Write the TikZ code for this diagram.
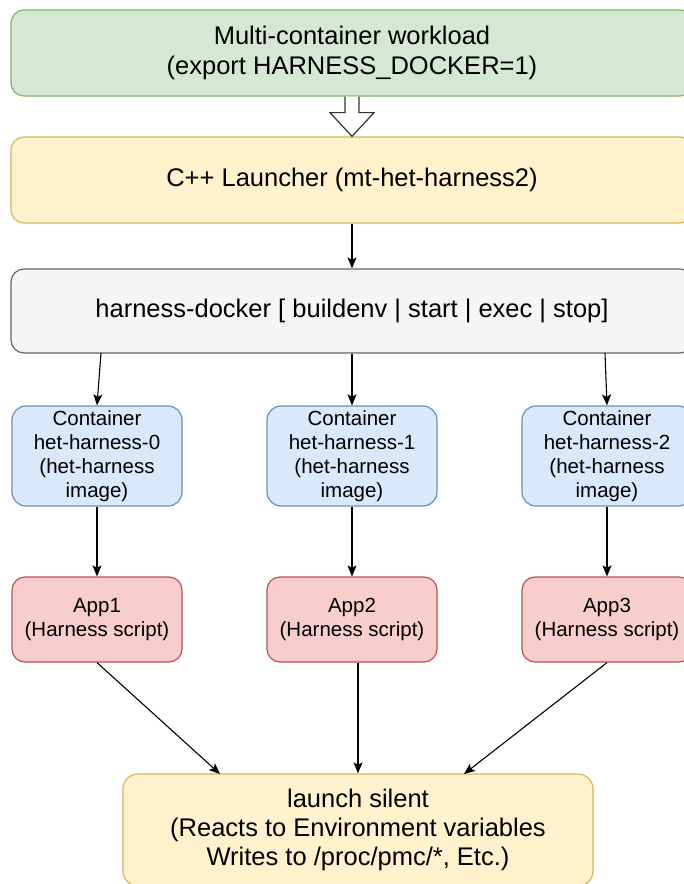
\documentclass[tikz,border=0pt]{standalone}
\usepackage{fontspec}
\setmainfont{Liberation Sans}
\usetikzlibrary{arrows.meta,calc}
\definecolor{gfill}{HTML}{D5E8D4}\definecolor{gline}{HTML}{82B366}
\definecolor{yfill}{HTML}{FFF2CC}\definecolor{yline}{HTML}{D6B656}
\definecolor{sfill}{HTML}{F5F5F5}\definecolor{sline}{HTML}{666666}
\definecolor{bfill}{HTML}{DAE8FC}\definecolor{bline}{HTML}{6C8EBF}
\definecolor{rfill}{HTML}{F8CECC}\definecolor{rline}{HTML}{B85450}
\begin{document}
\begin{tikzpicture}[x=1pt,y=-1pt,
  bigbox/.style={draw, rounded corners=13pt, line width=1.2pt, align=center, inner sep=0pt,
    font=\fontsize{25.5}{30.5}\selectfont, minimum width=682pt},
  smallbox/.style={draw, rounded corners=14pt, line width=1.2pt, align=center, inner sep=0pt,
    font=\fontsize{20.5}{24}\selectfont, minimum width=170pt},
  conn/.style={-{Stealth[length=11pt,width=9pt,inset=2.5pt]}, line width=1.1pt, black}]
\useasboundingbox (0,0) rectangle (684,884);
\clip (0,0) rectangle (684,884);

\node[bigbox, fill=gfill, draw=gline, minimum height=86pt] (work) at (352,53)
  {Multi-container workload\\(export HARNESS\_DOCKER=1)};
\node[bigbox, fill=yfill, draw=yline, minimum height=86pt] (launcher) at (352,180)
  {C++ Launcher (mt-het-harness2)};
\node[bigbox, fill=sfill, draw=sline, minimum height=84pt] (docker) at (352,311)
  {harness-docker [ buildenv | start | exec | stop]};

\node[smallbox, fill=bfill, draw=bline, minimum height=100pt] (c0) at (97,456)
  {Container\\het-harness-0\\(het-harness\\image)};
\node[smallbox, fill=bfill, draw=bline, minimum height=100pt] (c1) at (352,456)
  {Container\\het-harness-1\\(het-harness\\image)};
\node[smallbox, fill=bfill, draw=bline, minimum height=100pt] (c2) at (607,456)
  {Container\\het-harness-2\\(het-harness\\image)};

\node[smallbox, rounded corners=13pt, fill=rfill, draw=rline, minimum height=85pt] (a0) at (97,619.5)
  {App1\\(Harness script)};
\node[smallbox, rounded corners=13pt, fill=rfill, draw=rline, minimum height=85pt] (a1) at (352,619.5)
  {App2\\(Harness script)};
\node[smallbox, rounded corners=13pt, fill=rfill, draw=rline, minimum height=85pt] (a2) at (607,619.5)
  {App3\\(Harness script)};

\node[draw=yline, fill=yfill, rounded corners=15pt, line width=1.2pt, align=center, inner sep=0pt,
  font=\fontsize{25.5}{29}\selectfont, minimum width=470pt, minimum height=112pt] (silent) at (358,830)
  {launch silent\\(Reacts to Environment variables\\Writes to /proc/pmc/*, Etc.)};

% hollow block arrow
\draw[fill=white, line width=1.2pt, line join=miter, draw=black!80]
  ($(work.south)+(-7,0)$) -- ++(0,16) -- ++(-15,0) -- (launcher.north)
  -- ($(work.south)+(22,16)$) -- ++(-15,0) -- ($(work.south)+(7,0)$);

\draw[conn] (launcher.south) -- (docker.north);

\coordinate (d0) at (101,353);
\coordinate (d2) at (605,353);
\draw[conn] (d0) -- (c0.north);
\draw[conn] (docker.south) -- (c1.north);
\draw[conn] (d2) -- (c2.north);

\draw[conn] (c0.south) -- (a0.north);
\draw[conn] (c1.south) -- (a1.north);
\draw[conn] (c2.south) -- (a2.north);

\coordinate (l0) at (220,774);
\coordinate (l2) at (464,774);
\draw[conn] (a0.south) -- (l0);
\draw[conn] (a1.south -| silent.north) -- (silent.north);
\draw[conn] (a2.south) -- (l2);
\end{tikzpicture}
\end{document}
